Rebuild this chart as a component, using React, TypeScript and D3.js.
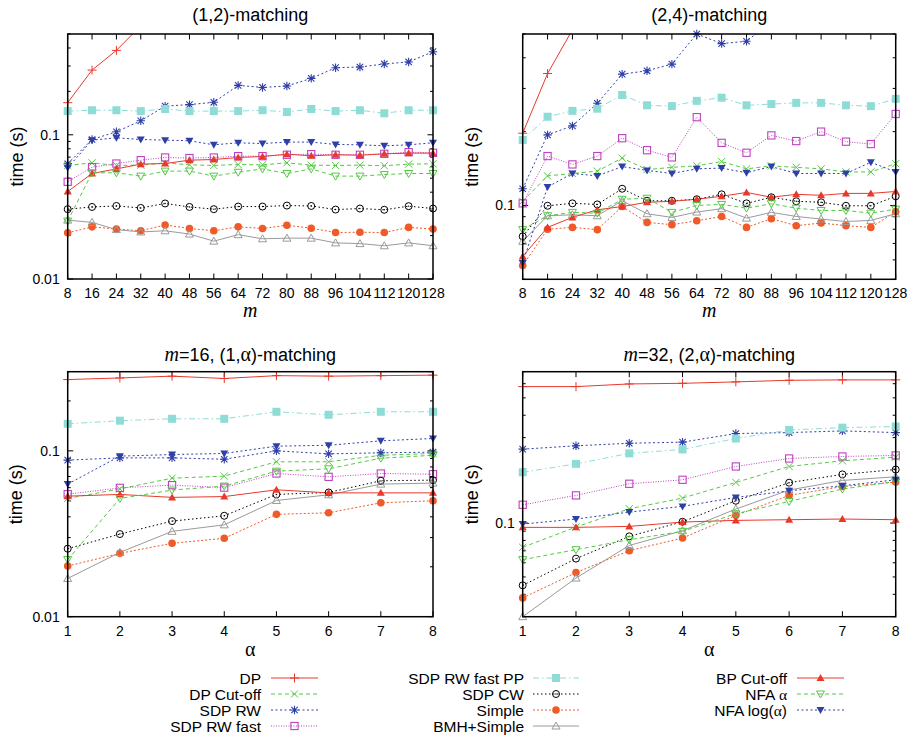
import * as d3 from 'd3'

const W = 912
const H = 738

const mValues = [8, 16, 24, 32, 40, 48, 56, 64, 72, 80, 88, 96, 104, 112, 120, 128]
const alphaValues = [1, 2, 3, 4, 5, 6, 7, 8]

const seriesNames = [
  'DP', 'DP Cut-off', 'SDP RW', 'SDP RW fast', 'SDP RW fast PP', 'SDP CW',
  'Simple', 'BMH+Simple', 'BP Cut-off', 'NFA α', 'NFA log(α)',
]

// (1,2)-matching, time (s) by m, same order as seriesNames
const match12 = [
  [0.167, 0.281, 0.385, 0.57, null, null, null, null, null, null, null, null, null, null, null, null],
  [0.0613, 0.0639, 0.0613, 0.0616, 0.0639, 0.0619, 0.0613, 0.0622, 0.0619, 0.0639, 0.0616, 0.0613, 0.0616, 0.061, 0.0626, 0.0629],
  [0.063, 0.0928, 0.105, 0.125, 0.158, 0.162, 0.168, 0.22, 0.213, 0.218, 0.246, 0.292, 0.295, 0.31, 0.32, 0.377],
  [0.0472, 0.0596, 0.0632, 0.0667, 0.0696, 0.069, 0.0696, 0.0711, 0.0711, 0.0727, 0.0734, 0.0727, 0.0727, 0.0738, 0.0758, 0.075],
  [0.146, 0.148, 0.148, 0.146, 0.151, 0.146, 0.146, 0.146, 0.148, 0.144, 0.151, 0.146, 0.148, 0.141, 0.148, 0.148],
  [0.0305, 0.0316, 0.0321, 0.0311, 0.0334, 0.0316, 0.0305, 0.0318, 0.0318, 0.0323, 0.0321, 0.0303, 0.0308, 0.0302, 0.032, 0.0308],
  [0.0209, 0.023, 0.0222, 0.0216, 0.0237, 0.0224, 0.0216, 0.023, 0.0224, 0.0236, 0.0225, 0.021, 0.0211, 0.021, 0.0228, 0.0222],
  [0.0256, 0.0247, 0.022, 0.0212, 0.0216, 0.0205, 0.0183, 0.0203, 0.019, 0.0192, 0.0192, 0.0178, 0.0176, 0.017, 0.0178, 0.017],
  [0.0404, 0.0539, 0.058, 0.0626, 0.0632, 0.0667, 0.0674, 0.0696, 0.0707, 0.0734, 0.0715, 0.0727, 0.0722, 0.0738, 0.0746, 0.0746],
  [0.0252, 0.0545, 0.0545, 0.0517, 0.056, 0.056, 0.0517, 0.055, 0.058, 0.0539, 0.058, 0.0517, 0.0517, 0.053, 0.0539, 0.0539],
  [0.059, 0.0918, 0.0953, 0.0928, 0.0918, 0.0909, 0.0852, 0.088, 0.087, 0.089, 0.089, 0.0857, 0.0852, 0.0839, 0.0852, 0.088],
]

// (2,4)-matching, time (s) by m
const match24 = [
  [0.197, 0.345, 0.52, null, null, null, null, null, null, null, null, null, null, null, null, null],
  [0.104, 0.132, 0.135, 0.138, 0.156, 0.14, 0.143, 0.145, 0.151, 0.141, 0.145, 0.143, 0.141, 0.137, 0.137, 0.148],
  [0.117, 0.194, 0.211, 0.261, 0.343, 0.354, 0.377, 0.5, 0.457, 0.467, 0.56, null, null, null, null, null],
  [0.102, 0.159, 0.147, 0.159, 0.188, 0.168, 0.157, 0.229, 0.18, 0.164, 0.193, 0.183, 0.2, 0.182, 0.178, 0.236],
  [0.185, 0.23, 0.243, 0.248, 0.282, 0.256, 0.254, 0.267, 0.275, 0.256, 0.259, 0.262, 0.262, 0.256, 0.254, 0.272],
  [0.0748, 0.0997, 0.102, 0.101, 0.117, 0.1045, 0.1045, 0.106, 0.111, 0.102, 0.108, 0.104, 0.103, 0.0997, 0.0997, 0.109],
  [0.0569, 0.08, 0.0814, 0.0797, 0.099, 0.0853, 0.0835, 0.0866, 0.0902, 0.0814, 0.0883, 0.0827, 0.0848, 0.0827, 0.0814, 0.0942],
  [0.0714, 0.0908, 0.0916, 0.0908, 0.1045, 0.0925, 0.0894, 0.094, 0.097, 0.0888, 0.0937, 0.0902, 0.088, 0.086, 0.0869, 0.0925],
  [0.062, 0.0814, 0.0894, 0.096, 0.099, 0.103, 0.104, 0.106, 0.109, 0.113, 0.108, 0.111, 0.11, 0.112, 0.112, 0.114],
  [0.0797, 0.0908, 0.0937, 0.093, 0.106, 0.107, 0.0937, 0.1, 0.101, 0.0975, 0.1016, 0.0975, 0.0954, 0.0954, 0.093, 0.0966],
  [0.0583, 0.119, 0.135, 0.132, 0.144, 0.139, 0.135, 0.141, 0.142, 0.136, 0.144, 0.135, 0.135, 0.135, 0.15, 0.137],
]

// m=16, (1,α)-matching, time (s) by α
const match1a = [
  [0.269, 0.275, 0.282, 0.273, 0.284, 0.282, 0.284, 0.286],
  [0.0516, 0.059, 0.0684, 0.0704, 0.0859, 0.0859, 0.094, 0.0964],
  [0.0879, 0.0907, 0.0907, 0.089, 0.1, 0.0959, 0.0973, 0.0982],
  [0.0548, 0.0598, 0.0621, 0.06, 0.073, 0.0697, 0.073, 0.0723],
  [0.1455, 0.152, 0.156, 0.156, 0.172, 0.165, 0.172, 0.172],
  [0.0257, 0.0315, 0.0377, 0.0406, 0.0546, 0.0561, 0.066, 0.0666],
  [0.0202, 0.0241, 0.0277, 0.0297, 0.0414, 0.0423, 0.0486, 0.05],
  [0.017, 0.0244, 0.0327, 0.0358, 0.0502, 0.0543, 0.063, 0.0639],
  [0.0533, 0.0546, 0.0524, 0.053, 0.0582, 0.0558, 0.0558, 0.0558],
  [0.0221, 0.0516, 0.058, 0.0613, 0.0754, 0.0779, 0.0903, 0.094],
  [0.063, 0.0929, 0.095, 0.0964, 0.1067, 0.108, 0.1149, 0.1187],
]

// m=32, (2,α)-matching, time (s) by α
const match2a = [
  [0.578, 0.578, 0.598, 0.603, 0.614, 0.627, 0.63, 0.63],
  [0.0732, 0.095, 0.1202, 0.1379, 0.1686, 0.207, 0.2226, 0.2333],
  [0.2586, 0.27, 0.279, 0.283, 0.316, 0.32, 0.327, 0.32],
  [0.1265, 0.1427, 0.1657, 0.1744, 0.207, 0.2294, 0.2354, 0.2385],
  [0.192, 0.214, 0.245, 0.2576, 0.2965, 0.331, 0.341, 0.346],
  [0.0449, 0.0633, 0.0843, 0.1017, 0.1332, 0.168, 0.187, 0.199],
  [0.0382, 0.0529, 0.0701, 0.0825, 0.1104, 0.1427, 0.16, 0.1693],
  [0.03, 0.0493, 0.075, 0.0906, 0.1197, 0.1528, 0.1729, 0.1813],
  [0.0946, 0.0946, 0.0958, 0.1013, 0.1035, 0.1044, 0.1053, 0.1044],
  [0.0625, 0.071, 0.0807, 0.0899, 0.1127, 0.132, 0.1548, 0.1707],
  [0.0987, 0.1053, 0.1152, 0.1239, 0.139, 0.1514, 0.1615, 0.1744],
]

const seriesStyles = [
  { color: '#e8392b', dash: '', marker: 'plus' },
  { color: '#55c845', dash: '4,3', marker: 'cross' },
  { color: '#2f3fa8', dash: '2,2.5', marker: 'star' },
  { color: '#c040c0', dash: '1,1.5', marker: 'openSquare' },
  { color: '#8edcd6', dash: '6,3,1.5,3', marker: 'filledSquare' },
  { color: '#000000', dash: '1.5,2.5', marker: 'openCircle' },
  { color: '#f05a28', dash: '2,2', marker: 'filledCircle' },
  { color: '#9a9a9a', dash: '', marker: 'openTriangle' },
  { color: '#e8392b', dash: '', marker: 'filledTriangle' },
  { color: '#55c845', dash: '4,3', marker: 'openDown' },
  { color: '#2f3fa8', dash: '2,2.5', marker: 'filledDown' },
]

const SANS = '"Liberation Sans", Arial, Helvetica, sans-serif'
const SERIF = '"Liberation Serif", "Times New Roman", serif'

type Part = { t: string; serif?: boolean; italic?: boolean }

const panels = [
  {
    id: 'p1', title: [{ t: '(1,2)-matching' }] as Part[], xs: mValues, data: match12,
    yDomain: [0.01, 0.5], xLabel: { t: 'm', serif: true, italic: true } as Part,
    left: 67.7, right: 433, top: 34, bottom: 279, titleY: 21, ylabelX: 17,
  },
  {
    id: 'p2', title: [{ t: '(2,4)-matching' }] as Part[], xs: mValues, data: match24,
    yDomain: [0.05, 0.5], xLabel: { t: 'm', serif: true, italic: true } as Part,
    left: 522.7, right: 895.7, top: 34, bottom: 279.3, titleY: 21, ylabelX: 472,
  },
  {
    id: 'p3',
    title: [{ t: 'm', serif: true, italic: true }, { t: '=16, (1,' }, { t: 'α', serif: true }, { t: ')-matching' }] as Part[],
    xs: alphaValues, data: match1a,
    yDomain: [0.01, 0.3], xLabel: { t: 'α', serif: true } as Part,
    left: 67.7, right: 433, top: 371.7, bottom: 616.7, titleY: 361, ylabelX: 16,
  },
  {
    id: 'p4',
    title: [{ t: 'm', serif: true, italic: true }, { t: '=32, (2,' }, { t: 'α', serif: true }, { t: ')-matching' }] as Part[],
    xs: alphaValues, data: match2a,
    yDomain: [0.03, 0.7], xLabel: { t: 'α', serif: true } as Part,
    left: 522.7, right: 895.7, top: 371.7, bottom: 616.7, titleY: 361, ylabelX: 472,
  },
]

function Marker({ type, x, y, color }: { type: string; x: number; y: number; color: string }) {
  const s = 3.6
  switch (type) {
    case 'plus':
      return <path d={`M${x - 4.5},${y}H${x + 4.5}M${x},${y - 4.5}V${y + 4.5}`} stroke={color} strokeWidth={1} />
    case 'cross':
      return <path d={`M${x - s},${y - s}L${x + s},${y + s}M${x - s},${y + s}L${x + s},${y - s}`} stroke={color} strokeWidth={1} />
    case 'star':
      return (
        <path
          d={`M${x - 4.2},${y}H${x + 4.2}M${x},${y - 4.2}V${y + 4.2}M${x - 3.2},${y - 3.2}L${x + 3.2},${y + 3.2}M${x - 3.2},${y + 3.2}L${x + 3.2},${y - 3.2}`}
          stroke={color} strokeWidth={1.1}
        />
      )
    case 'openSquare':
      return <rect x={x - 3.6} y={y - 3.6} width={7.2} height={7.2} fill="none" stroke={color} strokeWidth={1.1} />
    case 'filledSquare':
      return <rect x={x - 4} y={y - 4} width={8} height={8} fill={color} />
    case 'openCircle':
      return (
        <g>
          <circle cx={x} cy={y} r={3.5} fill="none" stroke={color} strokeWidth={1} />
          <circle cx={x} cy={y} r={0.7} fill={color} />
        </g>
      )
    case 'filledCircle':
      return <circle cx={x} cy={y} r={3.8} fill={color} />
    case 'openTriangle':
      return <path d={`M${x},${y - 4}L${x + 4},${y + 3}L${x - 4},${y + 3}Z`} fill="none" stroke={color} strokeWidth={1} />
    case 'filledTriangle':
      return <path d={`M${x},${y - 4}L${x + 4},${y + 3}L${x - 4},${y + 3}Z`} fill={color} />
    case 'openDown':
      return <path d={`M${x},${y + 4}L${x + 4},${y - 3}L${x - 4},${y - 3}Z`} fill="none" stroke={color} strokeWidth={1} />
    case 'filledDown':
      return <path d={`M${x},${y + 4}L${x + 4},${y - 3}L${x - 4},${y - 3}Z`} fill={color} />
    default:
      return null
  }
}

function RichText({ parts, x, y, size, anchor, serifBoost = 2 }: { parts: Part[]; x: number; y: number; size: number; anchor: string; serifBoost?: number }) {
  return (
    <text x={x} y={y} fontSize={size} fontFamily={SANS} textAnchor={anchor} fill="#000">
      {parts.map((p, i) => (
        <tspan
          key={i}
          fontFamily={p.serif ? SERIF : SANS}
          fontStyle={p.italic ? 'italic' : 'normal'}
          fontSize={p.serif ? size + serifBoost : size}
        >
          {p.t}
        </tspan>
      ))}
    </text>
  )
}

function Panel({ p }: { p: (typeof panels)[number] }) {
  const x = d3.scaleLinear().domain([p.xs[0], p.xs[p.xs.length - 1]]).range([p.left, p.right])
  const [lo, hi] = p.yDomain
  const y = d3.scaleLog().domain([lo, hi]).range([p.bottom, p.top])

  const yTicks: { v: number; major: boolean }[] = []
  for (let e = Math.floor(Math.log10(lo)); e <= Math.ceil(Math.log10(hi)); e++) {
    for (let k = 1; k <= 9; k++) {
      const v = k * Math.pow(10, e)
      if (v >= lo * 0.999 && v <= hi * 1.001) yTicks.push({ v, major: k === 1 })
    }
  }

  const line = d3
    .line<number | null>()
    .defined((d) => d != null)
    .x((_, i) => x(p.xs[i]))
    .y((d) => y(d as number))

  const cx = (p.left + p.right) / 2
  const cy = (p.top + p.bottom) / 2
  const bigTick = 5.5
  const smallTick = 3

  return (
    <g>
      <defs>
        <clipPath id={`clip-${p.id}`}>
          <rect x={p.left} y={p.top} width={p.right - p.left} height={p.bottom - p.top} />
        </clipPath>
      </defs>

      {/* ticks */}
      <g stroke="#000" strokeWidth={1}>
        {p.xs.map((v) => (
          <g key={`xt${v}`}>
            <line x1={x(v)} x2={x(v)} y1={p.bottom} y2={p.bottom - bigTick} />
            <line x1={x(v)} x2={x(v)} y1={p.top} y2={p.top + bigTick} />
          </g>
        ))}
        {yTicks.map((t) => {
          const len = t.major ? bigTick : smallTick
          return (
            <g key={`yt${t.v}`}>
              <line x1={p.left} x2={p.left + len} y1={y(t.v)} y2={y(t.v)} />
              <line x1={p.right} x2={p.right - len} y1={y(t.v)} y2={y(t.v)} />
            </g>
          )
        })}
      </g>

      {/* tick labels */}
      <g fontFamily={SANS} fontSize={14} fill="#000">
        {p.xs.map((v) => (
          <text key={`xl${v}`} x={x(v)} y={p.bottom + 19} textAnchor="middle">
            {v}
          </text>
        ))}
        {yTicks
          .filter((t) => t.major)
          .map((t) => (
            <text key={`yl${t.v}`} x={p.left - 8} y={y(t.v) + 5} textAnchor="end">
              {String(+t.v.toPrecision(1))}
            </text>
          ))}
      </g>

      {/* series */}
      <g clipPath={`url(#clip-${p.id})`}>
        {p.data.map((vals, si) => (
          <path
            key={`l${si}`}
            d={line(vals) || ''}
            fill="none"
            stroke={seriesStyles[si].color}
            strokeWidth={1}
            strokeDasharray={seriesStyles[si].dash || undefined}
          />
        ))}
      </g>
      <g>
        {p.data.map((vals, si) =>
          vals.map((v, i) =>
            v != null && v >= lo && v <= hi ? (
              <Marker key={`m${si}-${i}`} type={seriesStyles[si].marker} x={x(p.xs[i])} y={y(v)} color={seriesStyles[si].color} />
            ) : null,
          ),
        )}
      </g>

      <rect x={p.left} y={p.top} width={p.right - p.left} height={p.bottom - p.top} fill="none" stroke="#000" strokeWidth={1.5} />

      <RichText parts={p.title} x={cx} y={p.titleY} size={18} anchor="middle" />
      <RichText parts={[p.xLabel]} x={cx} y={p.bottom + (p.xLabel.italic ? 38 : 39)} size={18} anchor="middle" />
      <text
        transform={`translate(${p.ylabelX + 6},${cy}) rotate(-90)`}
        textAnchor="middle"
        fontFamily={SANS}
        fontSize={18}
        fill="#000"
      >
        time (s)
      </text>
    </g>
  )
}

const legendColumns = [
  { right: 261, x1: 271, x2: 318, items: [0, 1, 2, 3] },
  { right: 524, x1: 533, x2: 579, items: [4, 5, 6, 7] },
  { right: 787, x1: 797, x2: 844, items: [8, 9, 10] },
]
const legendRowY = [678, 694, 710, 726]

function labelParts(name: string): Part[] {
  const parts: Part[] = []
  name.split(/(α)/).forEach((s) => {
    if (s === '') return
    parts.push(s === 'α' ? { t: s, serif: true } : { t: s })
  })
  return parts
}

export default function App() {
  return (
    <svg width={W} height={H} style={{ position: 'absolute', left: 0, top: 0, background: '#fff' }}>
      <rect width={W} height={H} fill="#fff" />
      {panels.map((p) => (
        <Panel key={p.id} p={p} />
      ))}
      {legendColumns.map((col, ci) =>
        col.items.map((si, ri) => {
          const yy = legendRowY[ri]
          const st = seriesStyles[si]
          return (
            <g key={`lg${ci}-${ri}`}>
              <RichText parts={labelParts(seriesNames[si])} x={col.right} y={yy + 5.5} size={15.5} anchor="end" serifBoost={0} />
              <line
                x1={col.x1}
                x2={col.x2}
                y1={yy}
                y2={yy}
                stroke={st.color}
                strokeWidth={1}
                strokeDasharray={st.dash || undefined}
              />
              <Marker type={st.marker} x={(col.x1 + col.x2) / 2} y={yy} color={st.color} />
            </g>
          )
        }),
      )}
    </svg>
  )
}
